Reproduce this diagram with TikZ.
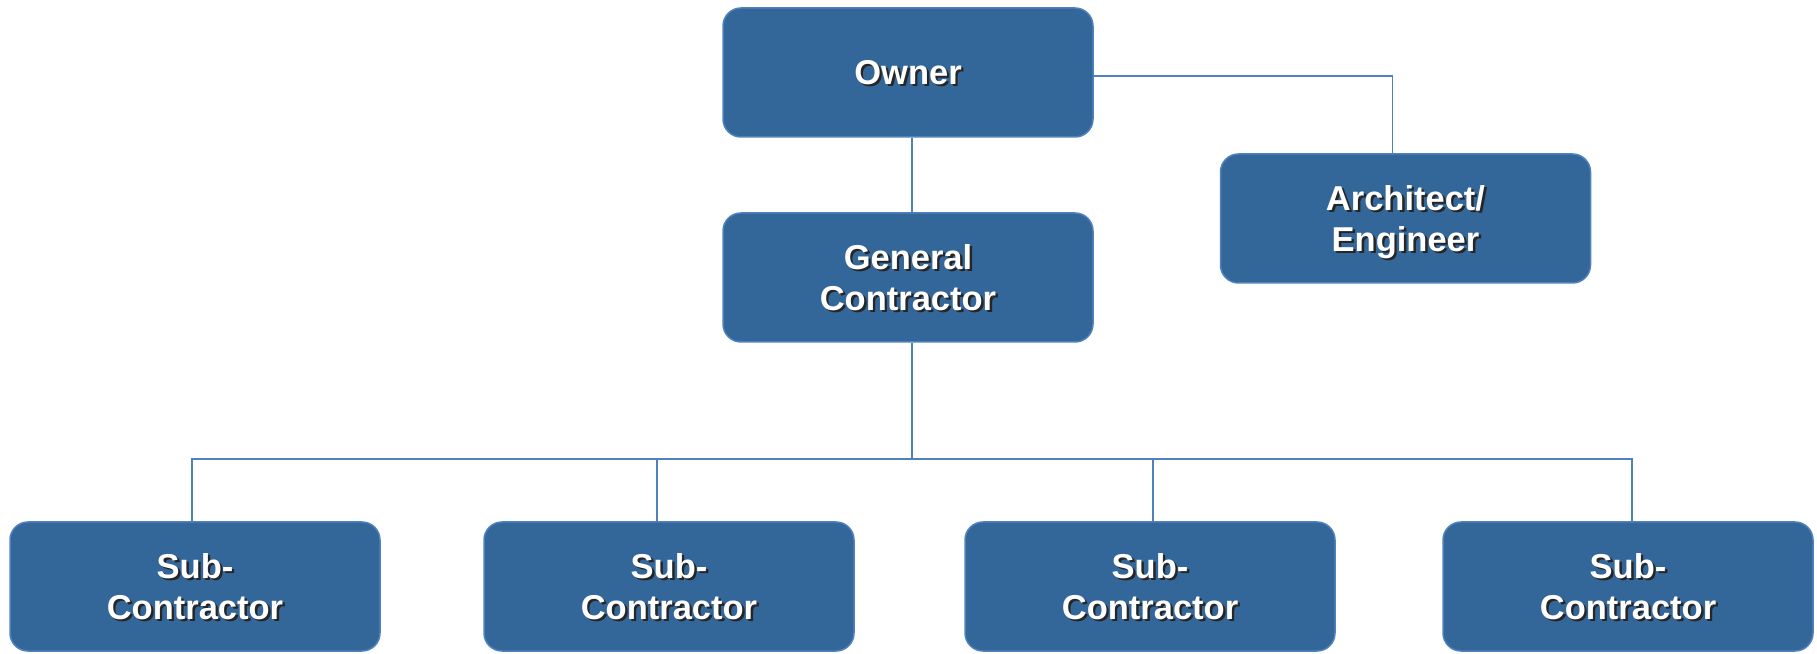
\documentclass[tikz,border=0pt]{standalone}
\usepackage{fontspec}
\setmainfont{Liberation Sans}
\definecolor{boxblue}{RGB}{52,103,153}
\definecolor{edgeblue}{RGB}{79,129,189}
\newcommand{\shad}[1]{\leavevmode\rlap{\kern2.4pt\raisebox{-2.4pt}{\color{black!85}#1}}#1}
\begin{document}
\begin{tikzpicture}[x=1pt, y=1pt,
  role/.style={shape=rectangle, rounded corners=18pt, fill=boxblue, draw=edgeblue, line width=1.5pt,
    minimum width=370pt, minimum height=129pt, text=white, align=center,
    font=\bfseries\fontsize{34.5}{41}\selectfont, text depth=-7pt},
  link/.style={-, draw=edgeblue, line width=1.6pt}]
\useasboundingbox (0,0) rectangle (1817,653);
\node[role] (owner) at (908,580.5) {\shad{Owner}};
\node[role] (gc) at (908,375.5) {\shad{General}\\\shad{Contractor}};
\node[role] (arch) at (1405.5,434.5) {\shad{Architect/}\\\shad{Engineer}};
\node[role] (s1) at (195,66.5) {\shad{Sub-}\\\shad{Contractor}};
\node[role] (s2) at (669,66.5) {\shad{Sub-}\\\shad{Contractor}};
\node[role] (s3) at (1150,66.5) {\shad{Sub-}\\\shad{Contractor}};
\node[role] (s4) at (1628,66.5) {\shad{Sub-}\\\shad{Contractor}};
\coordinate (bus) at (912,194);
\path [link] ([xshift=4pt]owner.south) edge ([xshift=4pt]gc.north);
\draw [link] ([yshift=-3.5pt]owner.east) -| ([xshift=-13pt]arch.north);
\draw [link] ([xshift=4pt]gc.south) -- (bus);
\draw [link] ([xshift=-3pt]s1.north) |- (bus) -| ([xshift=4pt]s4.north);
\draw [link] ([xshift=-12pt]s2.north) -- ([xshift=-12pt]s2.north |- bus);
\draw [link] ([xshift=3pt]s3.north) -- ([xshift=3pt]s3.north |- bus);
\end{tikzpicture}
\end{document}
